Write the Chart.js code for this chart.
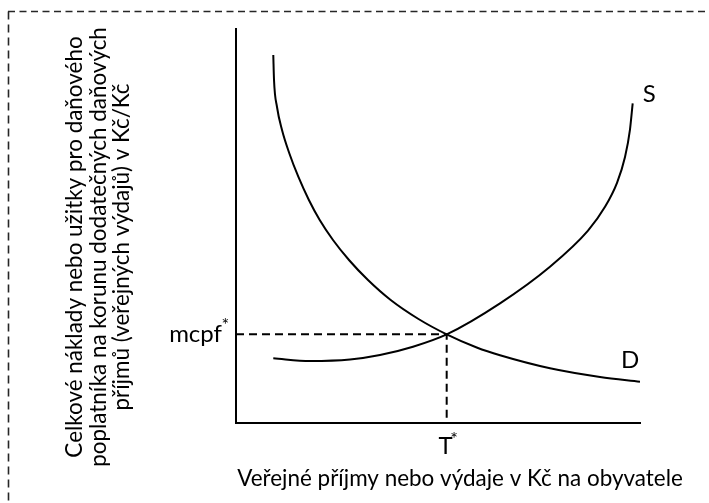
<!DOCTYPE html>
<html>
<head>
<meta charset="utf-8">
<script src="https://cdn.jsdelivr.net/npm/chart.js@4.4.1/dist/chart.umd.min.js"></script>
<style>
  html, body { margin: 0; padding: 0; background: #ffffff; }
  #wrap { width: 709px; height: 503px; position: relative; }
</style>
</head>
<body>
<div id="wrap"><canvas id="c"></canvas></div>
<script>
// ---- data (arbitrary units 0..100 on both axes) ----
const demandX = [9.23, 9.41, 10.15, 11.39, 13.17, 15.45, 18.04, 20.72, 24.01, 27.97, 32.67, 38.29, 45.17, 52.15, 59.58, 65.35, 77.72, 90.10, 100];
const demandY = [93.40, 87.06, 80.20, 74.37, 68.53, 62.44, 56.60, 51.52, 46.45, 41.37, 36.29, 31.22, 26.40, 22.5, 19.16, 17.18, 13.88, 11.68, 10.48];
const supplyX = [9.23, 18.32, 28.22, 35.64, 43.81, 52.15, 65.35, 77.72, 87.13, 91.34, 94.31, 96.29, 97.52, 98.19];
const supplyY = [16.42, 15.74, 16.12, 17.26, 19.37, 22.5, 30.38, 39.67, 48.83, 54.87, 60.96, 67.51, 74.49, 81.14];
const equilibriumT = 52.15;     // T*
const equilibriumMcpf = 22.5;   // mcpf*
const curveLabels = ["S", "D"];
const tickLabels = { x: "T", y: "mcpf", star: "*" };
const yTitleLines = [
  "Celkové náklady nebo užitky pro daňového",
  "poplatníka na korunu dodatečných daňových",
  "příjmů (veřejných výdajů) v Kč/Kč"
];
const xTitle = "Veřejné příjmy nebo výdaje v Kč na obyvatele";

const toPoints = (xs, ys) => xs.map((x, i) => ({ x: x, y: ys[i] }));

const FONT = "Lato, 'Open Sans', sans-serif";

function fitSize(ctx, text, target, base) {
  ctx.font = base + "px " + FONT;
  const w = ctx.measureText(text).width;
  return base * target / w;
}

const decoPlugin = {
  id: "deco",
  beforeDraw(chart) {
    const ctx = chart.ctx;
    ctx.save();
    ctx.fillStyle = "#ffffff";
    ctx.fillRect(0, 0, chart.width, chart.height);
    // dashed frame
    ctx.strokeStyle = "#262626";
    ctx.lineWidth = 1.6;
    ctx.setLineDash([7, 4.5]);
    ctx.beginPath();
    ctx.moveTo(8, 11.5);
    ctx.lineTo(chart.width, 11.5);
    ctx.stroke();
    ctx.setLineDash([8, 5]);
    ctx.beginPath();
    ctx.moveTo(8.5, 11.5);
    ctx.lineTo(8.5, chart.height);
    ctx.stroke();
    ctx.restore();
  },
  afterDraw(chart) {
    const ctx = chart.ctx;
    const xs = chart.scales.x, ys = chart.scales.y;
    ctx.save();
    ctx.fillStyle = "#000000";
    ctx.textBaseline = "alphabetic";

    // y-axis title (rotated, three lines)
    const s1 = fitSize(ctx, yTitleLines[0], 425, 20);
    const s2 = fitSize(ctx, yTitleLines[1], 436, 20);
    const ySize = (s1 + s2) / 2;
    ctx.font = ySize + "px " + FONT;
    ctx.textAlign = "center";
    const baselines = [82, 105.5, 129];
    yTitleLines.forEach((line, i) => {
      ctx.save();
      ctx.translate(baselines[i], 247);
      ctx.rotate(-Math.PI / 2);
      ctx.fillText(line, 0, 0);
      ctx.restore();
    });

    // x-axis title
    const xSize = fitSize(ctx, xTitle, 446, 20);
    ctx.font = xSize + "px " + FONT;
    ctx.textAlign = "center";
    ctx.fillText(xTitle, 460, 486);

    // curve labels
    ctx.font = "24px " + FONT;
    ctx.textAlign = "left";
    const sEndX = xs.getPixelForValue(supplyX[supplyX.length - 1]);
    const sEndY = ys.getPixelForValue(supplyY[supplyY.length - 1]);
    ctx.fillText(curveLabels[0], sEndX + 10, sEndY - 1);
    const dEndX = xs.getPixelForValue(demandX[demandX.length - 1]);
    const dEndY = ys.getPixelForValue(demandY[demandY.length - 1]);
    ctx.fillText(curveLabels[1], dEndX - 19, dEndY - 14);

    // mcpf* label
    const my = ys.getPixelForValue(equilibriumMcpf);
    ctx.font = "24px " + FONT;
    ctx.textAlign = "right";
    ctx.fillText(tickLabels.y, 222, my + 8);
    ctx.font = "18px " + FONT;
    ctx.textAlign = "left";
    ctx.fillText(tickLabels.star, 221.5, my - 3);

    // T* label
    const tx = xs.getPixelForValue(equilibriumT);
    ctx.font = "24px " + FONT;
    ctx.textAlign = "center";
    ctx.fillText(tickLabels.x, tx - 1, 454);
    const tw = ctx.measureText(tickLabels.x).width;
    ctx.font = "18px " + FONT;
    ctx.textAlign = "left";
    ctx.fillText(tickLabels.star, tx - 1 + tw / 2 - 2.5, 445);
    ctx.restore();
  }
};

const lineStyle = { borderColor: "#000000", borderWidth: 2, pointRadius: 0, showLine: true, fill: false };

new Chart(document.getElementById("c"), {
  type: "scatter",
  data: {
    datasets: [
      Object.assign({ label: "D", data: toPoints(demandX, demandY), cubicInterpolationMode: "monotone" }, lineStyle),
      Object.assign({ label: "S", data: toPoints(supplyX, supplyY), cubicInterpolationMode: "monotone" }, lineStyle),
      Object.assign({
        label: "guide",
        data: [{ x: 0, y: equilibriumMcpf }, { x: equilibriumT, y: equilibriumMcpf }, { x: equilibriumT, y: 0 }],
        tension: 0, borderDash: [8, 5]
      }, lineStyle)
    ]
  },
  options: {
    responsive: true,
    maintainAspectRatio: false,
    animation: false,
    events: [],
    layout: { padding: { left: 236, right: 69, top: 29, bottom: 80 } },
    plugins: { legend: { display: false }, tooltip: { enabled: false }, title: { display: false } },
    scales: {
      x: {
        type: "linear", min: 0, max: 100,
        grid: { display: false, drawTicks: false },
        ticks: { display: false },
        border: { display: true, color: "#000000", width: 2 }
      },
      y: {
        type: "linear", min: 0, max: 100,
        grid: { display: false, drawTicks: false },
        ticks: { display: false },
        border: { display: true, color: "#000000", width: 2 }
      }
    }
  },
  plugins: [decoPlugin]
});
</script>
</body>
</html>
